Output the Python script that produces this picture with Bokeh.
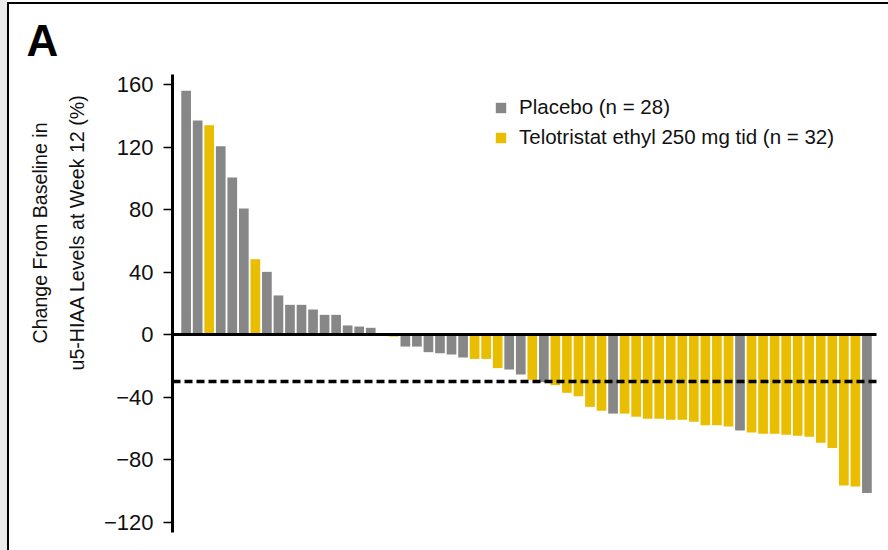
from bokeh.plotting import figure
from bokeh.models import Range1d, FixedTicker, Legend, LegendItem, Title
from bokeh.embed import file_html
from bokeh.resources import INLINE

# Percent change from baseline in u5-HIAA at week 12, one bar per patient,
# ordered from largest increase to largest decrease.
change_pct = [
    156, 137, 134, 120.5, 100.5, 80.6, 48.2, 40.1, 25, 19,
    19, 16, 12.6, 12.6, 5.8, 5.1, 4.3, 0, -1.3, -7.7,
    -7.7, -11.3, -12, -12.8, -14.7, -15.6, -15.6, -21.5, -22.4, -25.6,
    -29, -30.5, -32.4, -37.3, -39.5, -46.3, -48.8, -50.6, -50.6, -52.6,
    -53.9, -53.9, -54.6, -54.6, -55.9, -58.1, -58.1, -58.9, -61.4, -62.7,
    -63.5, -63.5, -64.2, -64.8, -65.5, -69.3, -72.7, -96.7, -97.3, -101.5,
]
# Treatment arm of each patient: P = placebo, T = telotristat ethyl
arm = [
    "P", "P", "T", "P", "P", "P", "T", "P", "P", "P",
    "P", "P", "P", "P", "P", "P", "P", "P", "T", "P",
    "P", "P", "P", "P", "P", "T", "T", "T", "P", "P",
    "T", "P", "T", "T", "T", "T", "T", "P", "T", "T",
    "T", "T", "T", "T", "T", "T", "T", "T", "P", "T",
    "T", "T", "T", "T", "T", "T", "T", "T", "T", "P",
]
arm_codes = ["P", "T"]
arm_labels = ["Placebo (n = 28)", "Telotristat ethyl 250 mg tid (n = 32)"]
arm_colors = ["#878787", "#e9bd00"]

y_ticks = [-120, -80, -40, 0, 40, 80, 120, 160]
y_tick_labels = ["\u2212120", "\u221280", "\u221240", "0", "40", "80", "120", "160"]
response_threshold = -30

FONT = "Liberation Sans"
TEXT = "#111111"

n = len(change_pct)
x_lo, x_hi = -1.18, n + 0.87

# page strip on the left and the black panel frame, painted behind the canvas
panel_frame = ", ".join([
    "linear-gradient(#000, #000) 7px 2px / 2px 100% no-repeat",
    "linear-gradient(#000, #000) 7px 2px / 100% 2px no-repeat",
    "linear-gradient(to right, #ebebeb 7px, #ffffff 7px)",
])

p = figure(width=888, height=550, output_backend="svg", toolbar_location=None,
           x_range=Range1d(x_lo, x_hi), y_range=Range1d(-126.7, 166.4),
           x_axis_type=None,
           min_border_left=172, min_border_right=0,
           min_border_top=74, min_border_bottom=18,
           styles={"background": panel_frame})
p.background_fill_color = "white"
p.border_fill_color = None
p.outline_line_color = None
p.xgrid.visible = False
p.ygrid.visible = False

# bars per treatment arm
renderers = []
for code, color in zip(arm_codes, arm_colors):
    xs = [i for i in range(n) if arm[i] == code]
    tops = [change_pct[i] for i in range(n) if arm[i] == code]
    r = p.vbar(x=xs, top=tops, bottom=0, width=0.84,
               fill_color=color, line_color=None)
    renderers.append(r)

# zero line and response threshold
p.segment(x0=[x_lo], y0=[0], x1=[n - 0.17], y1=[0],
          line_color="black", line_width=3)
p.segment(x0=[x_lo], y0=[response_threshold], x1=[n], y1=[response_threshold],
          line_color="black", line_width=3.5, line_dash="8 4")

# y axis
ax = p.yaxis[0]
ax.ticker = FixedTicker(ticks=y_ticks)
ax.major_label_overrides = dict(zip(y_ticks, y_tick_labels))
ax.axis_line_width = 3
ax.axis_line_color = "black"
ax.major_tick_line_width = 1.5
ax.major_tick_line_color = "black"
ax.major_tick_out = 9
ax.major_tick_in = 0
ax.minor_tick_out = 0
ax.minor_tick_in = 0
ax.major_label_standoff = 10
ax.major_label_text_font = FONT
ax.major_label_text_font_size = "22px"
ax.major_label_text_color = TEXT

# axis title, two rotated lines (inner line first), each starting near the bottom
for text, offset, standoff in [("u5-HIAA Levels at Week 12 (%)", 162, 26),
                               ("Change From Baseline in", 189, 0)]:
    p.add_layout(Title(text=text, align="left", offset=offset,
                       standoff=standoff,
                       text_font=FONT, text_font_size="19.6px",
                       text_font_style="normal", text_color=TEXT), "left")

# panel letter
p.title.text = "A"
p.title.align = "left"
p.title.offset = -146
p.title.standoff = 20
p.title.text_font = FONT
p.title.text_font_style = "bold"
p.title.text_font_size = "44px"
p.title.text_color = "black"

legend = Legend(items=[LegendItem(label=lab, renderers=[r])
                       for lab, r in zip(arm_labels, renderers)],
                location=(322, 383), padding=0, margin=0, spacing=6,
                glyph_width=13, glyph_height=13, label_height=20,
                label_standoff=12, border_line_alpha=0,
                background_fill_alpha=0,
                label_text_font=FONT, label_text_font_size="20.5px",
                label_text_color=TEXT)
p.add_layout(legend, "center")

open("out.html", "w").write(file_html(p, INLINE))
